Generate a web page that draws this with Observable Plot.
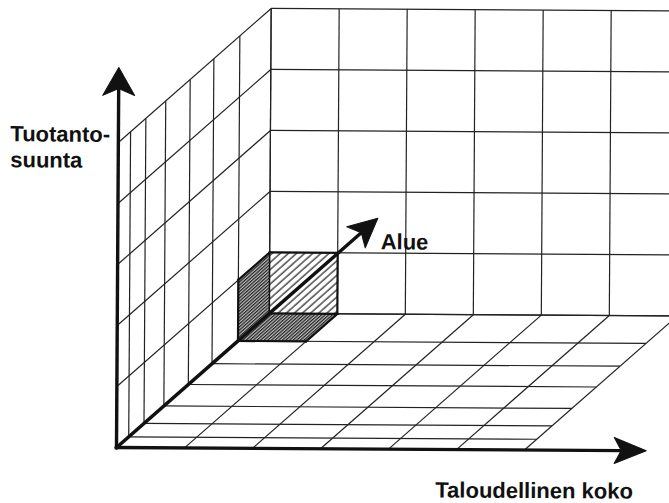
<!DOCTYPE html>
<html>
<head>
<meta charset="utf-8">
<script src="https://cdn.jsdelivr.net/npm/d3@7"></script>
<script src="https://cdn.jsdelivr.net/npm/@observablehq/plot@0.6"></script>
<style>
  html, body { margin: 0; padding: 0; background: #fff; overflow: hidden; }
  #chart svg { display: block; }
</style>
</head>
<body>
<div id="chart"></div>
<script>
// ---- data: grid levels of the 3-D frame ----
const depthLevels = [0, 0.08, 0.18, 0.31, 0.47, 0.625, 0.795, 1]; // "Alue" direction (front -> back)
const columnLevels = [0, 1, 2, 3, 4, 5, 6];                       // "Taloudellinen koko" direction
const heightLevels = [0, 1, 2, 3, 4, 5];                           // "Tuotantosuunta" direction
const boxColumns = [0, 1];
const boxHeights = [0, 1];
const boxDepths = [0.795, 1];
const verticalAxisEnd = 6.23;
const horizontalAxisEnd = 7.79;
const depthAxisEnd = 1.71;
const verticalLabel = "Tuotanto-\nsuunta";
const horizontalLabel = "Taloudellinen koko";
const depthLabel = "Alue";

// ---- oblique projection (screen units of one column / one row) ----
const W = 669, H = 503;
const COL = 68, ROW = 61, DEPTH_X = 152, DEPTH_Y = 135;
const ORIGIN_X = 116, ORIGIN_Y = 447;
const P = (c, h, z) => ({x: c + z * DEPTH_X / COL, y: h + z * DEPTH_Y / ROW});
const seg = (a, b) => ({x1: a.x, y1: a.y, x2: b.x, y2: b.y});

const cMax = columnLevels[columnLevels.length - 1];
const hMax = heightLevels[heightLevels.length - 1];
const zBack = depthLevels[depthLevels.length - 1];

const grid = [];
// left wall
for (const z of depthLevels) grid.push(seg(P(0, 0, z), P(0, hMax, z)));
for (const h of heightLevels.slice(1)) grid.push(seg(P(0, h, 0), P(0, h, zBack)));
// back wall
for (const c of columnLevels) grid.push(seg(P(c, 0, zBack), P(c, hMax, zBack)));
for (const h of heightLevels) grid.push(seg(P(0, h, zBack), P(cMax, h, zBack)));
// floor
for (const z of depthLevels.slice(1)) grid.push(seg(P(0, 0, z), P(cMax, 0, z)));
for (const c of columnLevels.slice(1)) grid.push(seg(P(c, 0, 0), P(c, 0, zBack)));

// ---- highlighted cell ----
const [b0, b1] = boxColumns, [h0, h1] = boxHeights, [z0, z1] = boxDepths;
const backFace = [P(b0,h0,z1), P(b1,h0,z1), P(b1,h1,z1), P(b0,h1,z1), P(b0,h0,z1)];
const leftFace = [P(b0,h0,z0), P(b0,h0,z1), P(b0,h1,z1), P(b0,h1,z0), P(b0,h0,z0)];
const floorFace = [P(b0,h0,z0), P(b1,h0,z0), P(b1,h0,z1), P(b0,h0,z1), P(b0,h0,z0)];
const boxOuter = [
  seg(P(b0,h0,z0), P(b0,h1,z0)), seg(P(b0,h1,z0), P(b0,h1,z1)),
  seg(P(b0,h1,z1), P(b1,h1,z1)), seg(P(b1,h1,z1), P(b1,h0,z1)),
  seg(P(b1,h0,z1), P(b1,h0,z0)), seg(P(b1,h0,z0), P(b0,h0,z0)),
  seg(P(b0,h0,z1), P(b1,h0,z1))
];
const boxInner = [seg(P(b0,h0,z1), P(b0,h1,z1))];

// ---- axes with filled arrowheads ----
const O = P(0, 0, 0);
function arrow(tip, len, half, notch) {
  const dxp = (tip.x - O.x) * COL, dyp = -(tip.y - O.y) * ROW;
  const L = Math.hypot(dxp, dyp), ux = dxp / L, uy = dyp / L, nx = -uy, ny = ux;
  const u = (px, py) => ({x: tip.x + px / COL, y: tip.y - py / ROW});
  const head = [
    u(0, 0),
    u(-ux * len + nx * half, -uy * len + ny * half),
    u(-ux * (len - notch), -uy * (len - notch)),
    u(-ux * len - nx * half, -uy * len - ny * half),
    u(0, 0)
  ];
  const lineEnd = u(-ux * (len - notch + 1), -uy * (len - notch + 1));
  return {head, line: seg(O, lineEnd)};
}
const vArrow = arrow(P(0, verticalAxisEnd, 0), 28, 16, 7);
const hArrow = arrow(P(horizontalAxisEnd, 0, 0), 32, 13, 7);
const dArrow = arrow(P(0, 0, depthAxisEnd), 29, 14, 7);

const font = {fontFamily: "'Liberation Sans', Arial, Helvetica, sans-serif", fontSize: 22, fontWeight: "bold", fill: "#111"};

const svg = Plot.plot({
  width: W, height: H, margin: 0,
  x: {axis: null, domain: [-ORIGIN_X / COL, (W - ORIGIN_X) / COL]},
  y: {axis: null, domain: [(ORIGIN_Y - H) / ROW, ORIGIN_Y / ROW]},
  style: {background: "#fff"},
  marks: [
    Plot.link(grid, {x1: "x1", y1: "y1", x2: "x2", y2: "y2", stroke: "#222", strokeWidth: 1.2, clip: true}),
    Plot.line(backFace, {x: "x", y: "y", fill: "url(#hatchLight)", stroke: "none"}),
    Plot.line(leftFace, {x: "x", y: "y", fill: "url(#hatchDark)", stroke: "none"}),
    Plot.line(floorFace, {x: "x", y: "y", fill: "url(#hatchDark)", stroke: "none"}),
    Plot.link(boxInner, {x1: "x1", y1: "y1", x2: "x2", y2: "y2", stroke: "#111", strokeWidth: 1.5}),
    Plot.link(boxOuter, {x1: "x1", y1: "y1", x2: "x2", y2: "y2", stroke: "#111", strokeWidth: 2.2, strokeLinecap: "square"}),
    Plot.link([vArrow.line, hArrow.line, dArrow.line], {x1: "x1", y1: "y1", x2: "x2", y2: "y2", stroke: "#111", strokeWidth: 3.4, strokeLinecap: "square"}),
    Plot.line(vArrow.head, {x: "x", y: "y", fill: "#111", stroke: "#111", strokeWidth: 1}),
    Plot.line(hArrow.head, {x: "x", y: "y", fill: "#111", stroke: "#111", strokeWidth: 1}),
    Plot.line(dArrow.head, {x: "x", y: "y", fill: "#111", stroke: "#111", strokeWidth: 1}),
    Plot.text([{...O, t: verticalLabel}], {x: "x", y: () => hMax, text: "t", textAnchor: "start", lineAnchor: "top", lineHeight: 1.18, dx: -108, dy: -19, ...font}),
    Plot.text([{...P(horizontalAxisEnd, 0, 0), t: horizontalLabel}], {x: "x", y: "y", text: "t", textAnchor: "end", lineAnchor: "bottom", dx: -13, dy: 48, ...font}),
    Plot.text([{...P(0, 0, depthAxisEnd), t: depthLabel}], {x: "x", y: "y", text: "t", textAnchor: "start", lineAnchor: "bottom", dx: 3, dy: 31, ...font})
  ]
});

const defs = document.createElementNS("http://www.w3.org/2000/svg", "defs");
defs.innerHTML = `
  <pattern id="hatchLight" patternUnits="userSpaceOnUse" width="5.4" height="5.4" patternTransform="rotate(48)">
    <rect width="5.4" height="5.4" fill="#fff"/>
    <line x1="1" y1="0" x2="1" y2="5.4" stroke="#222" stroke-width="1.2"/>
  </pattern>
  <pattern id="hatchDark" patternUnits="userSpaceOnUse" width="2.4" height="2.4" patternTransform="rotate(48)">
    <rect width="2.4" height="2.4" fill="#bbb"/>
    <line x1="0.6" y1="0" x2="0.6" y2="2.4" stroke="#222" stroke-width="1.2"/>
  </pattern>`;
svg.insertBefore(defs, svg.firstChild);
svg.style.transform = "rotate(0.35deg)";
svg.style.transformOrigin = `${ORIGIN_X}px ${ORIGIN_Y}px`;
document.getElementById("chart").appendChild(svg);
</script>
</body>
</html>
